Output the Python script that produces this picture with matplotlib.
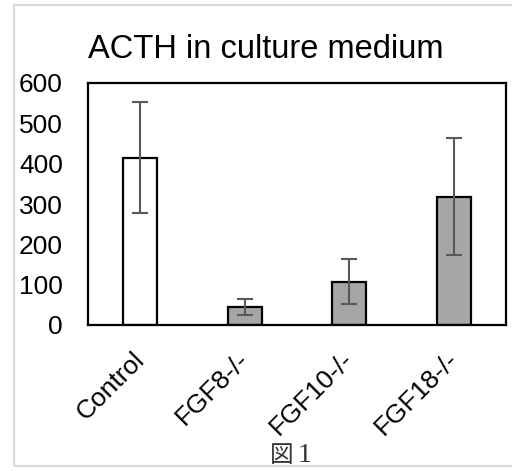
import matplotlib.pyplot as plt
from matplotlib.patches import Rectangle
from matplotlib.transforms import ScaledTranslation

groups = ["Control", "FGF8-/-", "FGF10-/-", "FGF18-/-"]
acth = [415, 45, 107, 318]
err = [137, 20, 56, 145]
fills = ["white", "#a6a6a6", "#a6a6a6", "#a6a6a6"]
yticks = [0, 100, 200, 300, 400, 500, 600]

plt.rcParams['font.family'] = ['Liberation Sans', 'DejaVu Sans']

fig = plt.figure(figsize=(5.12, 4.71), dpi=100)
# light grey frame round the picture (open on the right)
fig.patches.append(Rectangle((13.5 / 512, 5.5 / 471), 1.2, 460.5 / 471,
                             transform=fig.transFigure, fill=False,
                             edgecolor="#d9d9d9", linewidth=1.5))

ax = fig.add_axes([88 / 512, (471 - 325) / 471, 418 / 512, 242 / 471])
x = range(len(groups))
ax.bar(x, acth, width=0.33, color=fills, edgecolor="black", linewidth=1.6,
       yerr=err, error_kw=dict(ecolor="#595959", elinewidth=1.5, capsize=6, capthick=1.5))

ax.set_xlim(-0.5, 3.5)
ax.set_ylim(0, 600)
ax.set_yticks(yticks)
ax.tick_params(axis="y", length=0, pad=18, labelsize=19)
ax.tick_params(axis="x", length=0, pad=16, labelsize=19)
ax.set_xticks(list(x))
ax.set_xticklabels(groups, rotation=45, ha="right", rotation_mode="anchor")
shift = ScaledTranslation(-8 / 100, 0, fig.dpi_scale_trans)
for lab in ax.get_xticklabels():
    lab.set_transform(lab.get_transform() + shift)
for s in ax.spines.values():
    s.set_linewidth(1.6)

fig.text(88 / 512, 1 - 50 / 471, "ACTH in culture medium", fontsize=23.5,
         va="center", ha="left")
# caption "図1": CJK glyph plus a serif digit
fig.text(282 / 512, 1 - 456 / 471, "図", fontsize=17, ha="center", va="center",
         family=["Noto Sans CJK JP"], color="#333333")
fig.text(305 / 512, 1 - 456 / 471, "1", fontsize=20, ha="center", va="center",
         family=["Liberation Serif"], color="#333333")

fig.savefig("out.png", dpi=100)
